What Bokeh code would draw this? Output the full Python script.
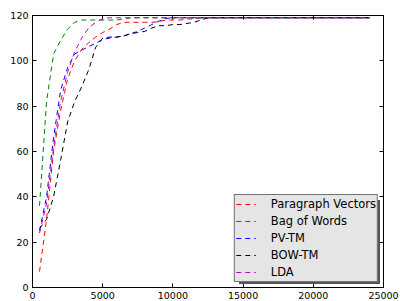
from bokeh.plotting import figure
from bokeh.models import Legend, LegendItem, FixedTicker, LinearAxis, Range1d, CustomJSTickFormatter
from bokeh.embed import file_html
from bokeh.resources import INLINE

# shared x values
x = [500, 1000, 1500, 2000, 2500, 3000, 3500, 4000, 4500, 5000, 5500, 6000, 6500,
     7000, 7500, 8000, 8500, 9000, 9500, 10000, 10500, 11000, 11500, 12000, 12500, 24000]

paragraph_vectors = [7, 30, 60, 78, 92, 100, 105, 108, 110.5, 112.5, 114, 116, 117,
                     117, 117, 117, 117, 117.3, 118, 118, 118, 118.5, 118.5, 119, 119, 119]
bag_of_words = [36, 82, 103, 109, 114, 117, 118, 118, 118, 118, 118, 118, 118.5,
                119, 119, 119, 119, 119, 119, 119, 119, 119, 119, 119, 119, 119]
pv_tm = [25, 40, 66, 87, 97, 103, 104.7, 106.3, 107.7, 109.5, 110, 110.5, 111,
         112, 113, 114.5, 116, 117.5, 118.7, 119, 119, 119, 119, 119, 119, 119]
bow_tm = [26, 30, 40, 56, 73, 82, 88.5, 96, 106, 110, 110.5, 110.5, 111,
          112, 112.5, 113, 114.5, 115.5, 115.5, 116, 116, 116.5, 117, 118, 119, 119]
lda = [24, 37, 62, 82, 95, 104, 110, 114.5, 117, 118.5, 119, 119, 119,
       119, 119, 119, 119, 119, 119, 119, 119, 119, 119, 119, 119, 119]

labels = ["Paragraph Vectors", "Bag of Words", "PV-TM", "BOW-TM", "LDA"]
series = [paragraph_vectors, bag_of_words, pv_tm, bow_tm, lda]
colors = ["#ff0000", "#008000", "#0000ff", "#000000", "#bf00bf"]

x_ticks = [0, 5000, 10000, 15000, 20000, 25000]
y_ticks = [0, 20, 40, 60, 80, 100, 120]

FONT = "DejaVu Sans"

p = figure(frame_width=351, frame_height=272, output_backend="svg", toolbar_location=None,
           x_range=Range1d(0, 25000), y_range=Range1d(0, 120),
           min_border_left=32, min_border_top=15, min_border_right=17, min_border_bottom=0)
p.xgrid.visible = False
p.ygrid.visible = False
p.outline_line_color = "black"
p.outline_line_width = 1
p.background_fill_color = "white"
p.border_fill_color = "white"

def style_axis(ax, ticks, show_labels):
    ax.ticker = FixedTicker(ticks=ticks)
    ax.major_tick_in = 4
    ax.major_tick_out = 0
    ax.minor_tick_in = 0
    ax.minor_tick_out = 0
    ax.axis_line_color = "black"
    ax.major_tick_line_color = "black"
    ax.major_label_text_font = FONT
    ax.major_label_text_color = "#000000"
    ax.major_label_text_font_size = "9.5px"
    if show_labels:
        ax.major_label_standoff = 4
    else:
        ax.formatter = CustomJSTickFormatter(code="return ''")
        ax.major_label_standoff = 0

style_axis(p.xaxis[0], x_ticks, True)
style_axis(p.yaxis[0], y_ticks, True)
top_ax = LinearAxis()
right_ax = LinearAxis()
style_axis(top_ax, x_ticks, False)
style_axis(right_ax, y_ticks, False)
p.add_layout(top_ax, "above")
p.add_layout(right_ax, "right")

renderers = []
for ys, c in zip(series, colors):
    r = p.line(x, ys, line_color=c, line_width=1, line_dash="5 4")
    renderers.append(r)

common = dict(location="bottom_right", padding=1, spacing=1,
              label_height=16, glyph_height=16, glyph_width=20, label_standoff=15,
              label_text_font=FONT, label_text_font_size="11.5px")
shadow = Legend(items=[LegendItem(label="", renderers=[r]) for r in renderers],
                margin=3, label_width=106, label_text_alpha=0,
                background_fill_color="#555555", background_fill_alpha=1,
                border_line_color=None, **common)
legend = Legend(items=[LegendItem(label=l, renderers=[r]) for l, r in zip(labels, renderers)],
                margin=5, label_text_color="#000000",
                background_fill_color="#e5e5e5", background_fill_alpha=1,
                border_line_color="black", border_line_width=1, **common)
p.add_layout(shadow)
p.add_layout(legend)

open("out.html", "w").write(file_html(p, INLINE))
